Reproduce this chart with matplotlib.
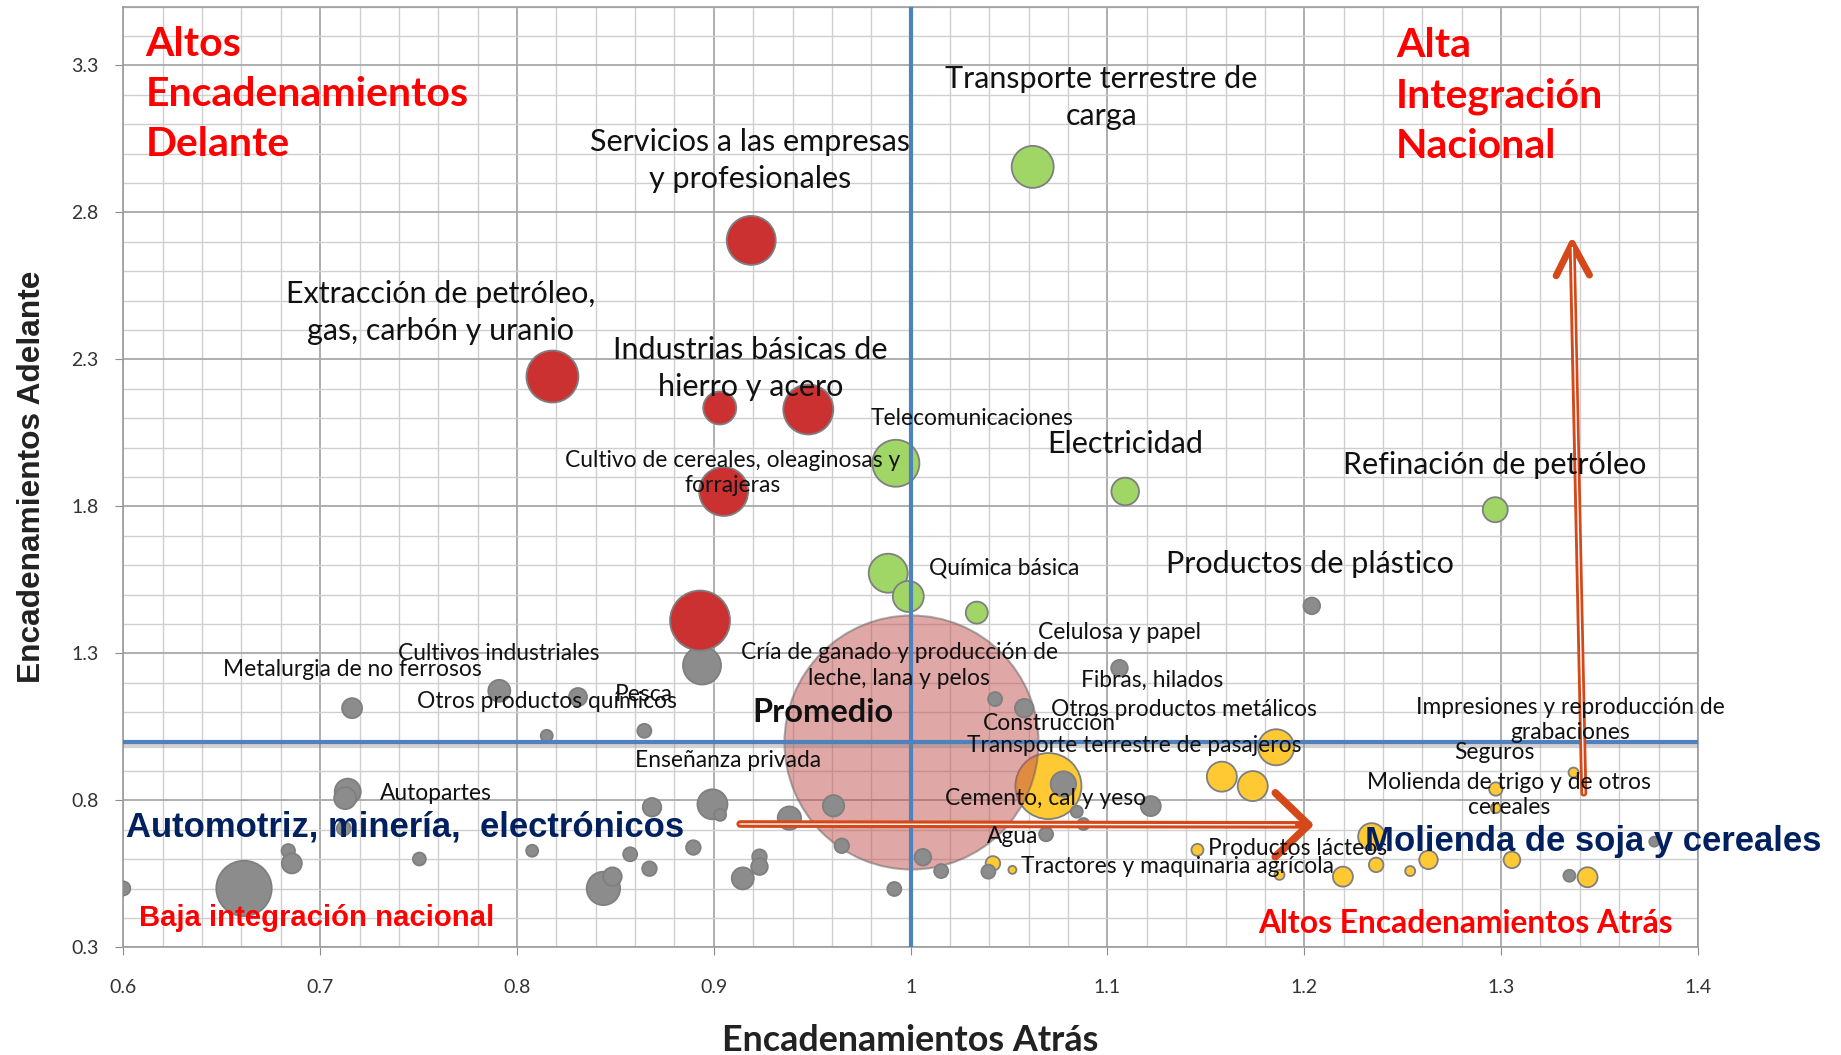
import numpy as np
import matplotlib
matplotlib.use('Agg')
import matplotlib.pyplot as plt
from matplotlib import patheffects as pe

# Encadenamientos atrás (x), adelante (y) y tamaño de la burbuja
rojo_x = [0.919, 0.818, 0.903, 0.948, 0.905, 0.893]
rojo_y = [2.705, 2.242, 2.135, 2.130, 1.851, 1.412]
rojo_t = [6.0, 6.76, 2.72, 6.25, 6.0, 9.0]

verde_x = [1.062, 0.9925, 1.109, 1.297, 0.9886, 0.9988, 1.0336]
verde_y = [2.955, 1.947, 1.851, 1.789, 1.573, 1.494, 1.439]
verde_t = [4.41, 5.52, 1.9, 1.56, 3.8, 2.4, 1.21]

amarillo_x = [1.070, 1.1857, 1.1581, 1.1738, 1.1457, 1.0418, 1.0517, 1.1874, 1.2196,
              1.2365, 1.2538, 1.2631, 1.2342, 1.2973, 1.2973, 1.3055, 1.3368, 1.3439]
amarillo_y = [0.849, 0.981, 0.881, 0.849, 0.632, 0.586, 0.564, 0.547, 0.541,
              0.581, 0.560, 0.598, 0.677, 0.839, 0.774, 0.598, 0.895, 0.539]
amarillo_t = [10.9, 3.24, 2.25, 2.25, 0.36, 0.53, 0.16, 0.25, 1.0,
              0.53, 0.25, 0.86, 1.82, 0.45, 0.25, 0.69, 0.25, 1.0]

gris_x = [0.7162, 0.791, 0.831, 0.8151, 0.714, 0.7127, 0.712, 0.6838, 0.6856, 0.7504,
          0.8077, 0.6613, 0.600, 0.8647, 0.8686, 0.8993, 0.9032, 0.9384, 0.9608, 0.8896,
          0.8575, 0.8673, 0.8439, 0.8485, 0.9147, 0.9232, 0.9232, 0.965, 1.0062, 1.0155,
          0.9917, 1.0688, 1.0395, 0.894, 1.2038, 1.1061, 1.0429, 1.0577, 1.0776, 1.122,
          1.0844, 1.0878, 1.3347, 1.3778]
gris_y = [1.114, 1.173, 1.152, 1.020, 0.830, 0.808, 0.705, 0.629, 0.586, 0.601,
          0.629, 0.501, 0.501, 1.037, 0.777, 0.787, 0.751, 0.740, 0.782, 0.640,
          0.617, 0.568, 0.501, 0.541, 0.535, 0.609, 0.575, 0.646, 0.607, 0.560,
          0.499, 0.685, 0.558, 1.259, 1.462, 1.250, 1.145, 1.114, 0.856, 0.781,
          0.762, 0.720, 0.544, 0.660]
gris_t = [1.0, 1.21, 0.81, 0.36, 1.69, 1.21, 0.49, 0.45, 1.0, 0.42,
          0.36, 7.67, 0.49, 0.49, 0.86, 2.25, 0.36, 1.37, 1.14, 0.53,
          0.49, 0.53, 2.79, 0.86, 1.21, 0.53, 0.69, 0.53, 0.69, 0.49,
          0.49, 0.49, 0.49, 3.61, 0.69, 0.69, 0.49, 0.86, 1.61, 1.0,
          0.36, 0.36, 0.36, 0.25]

promedio_x = [1.0]
promedio_y = [1.0]
promedio_t = [161.3]

# etiquetas de sectores: texto, x, y, grande
etiquetas = [
    ("Transporte terrestre de\ncarga", 1.097, 3.192, True),
    ("Servicios a las empresas\ny profesionales", 0.9186, 2.976, True),
    ("Extracción de petróleo,\ngas, carbón y uranio", 0.7611, 2.461, True),
    ("Industrias básicas de\nhierro y acero", 0.9186, 2.269, True),
    ("Telecomunicaciones", 1.0313, 2.098, False),
    ("Electricidad", 1.1089, 2.014, True),
    ("Cultivo de cereales, oleaginosas y\nforrajeras", 0.9096, 1.914, False),
    ("Refinación de petróleo", 1.2968, 1.942, True),
    ("Química básica", 1.0474, 1.590, False),
    ("Productos de plástico", 1.2031, 1.606, True),
    ("Celulosa y papel", 1.1059, 1.371, False),
    ("Cultivos industriales", 0.7909, 1.299, False),
    ("Cría de ganado y producción de\nleche, lana y pelos", 0.9943, 1.259, False),
    ("Metalurgia de no ferrosos", 0.7163, 1.247, False),
    ("Fibras, hilados", 1.1226, 1.207, False),
    ("Pesca", 0.8643, 1.159, False),
    ("Otros productos químicos", 0.8154, 1.135, False),
    ("Otros productos metálicos", 1.1387, 1.111, False),
    ("Construcción", 1.0707, 1.063, False),
    ("Impresiones y reproducción de\ngrabaciones", 1.335, 1.075, False),
    ("Transporte terrestre de pasajeros", 1.1136, 0.987, False),
    ("Seguros", 1.2968, 0.963, False),
    ("Enseñanza privada", 0.9072, 0.935, False),
    ("Molienda de trigo y de otros\ncereales", 1.304, 0.819, False),
    ("Autopartes", 0.7587, 0.823, False),
    ("Cemento, cal y yeso", 1.0683, 0.807, False),
    ("Agua", 1.0516, 0.679, False),
    ("Productos lácteos", 1.1966, 0.636, False),
    ("Tractores y maquinaria agrícola", 1.1357, 0.576, False),
]

FUENTE = ['Lato', 'DejaVu Sans']
ARIAL = ['Liberation Sans', 'DejaVu Sans']


def area(t):
    r_px = 10 * np.sqrt(np.array(t))
    return (2 * r_px * 72 / 100) ** 2


fig = plt.figure(figsize=(18.41, 10.55), dpi=100)
ax = fig.add_axes([0.067, 0.1019, 0.8553, 0.8918])

ax.set_xlim(0.6, 1.4)
ax.set_ylim(0.3, 3.5)
ax.set_xticks(np.arange(0.6, 1.401, 0.1))
ax.set_xticks(np.arange(0.6, 1.401, 0.02), minor=True)
ax.set_yticks(np.arange(0.3, 3.31, 0.5))
ax.set_yticks(np.arange(0.3, 3.501, 0.1), minor=True)
ax.set_xticklabels([f'{v:g}' for v in np.arange(0.6, 1.401, 0.1).round(1)])
ax.set_yticklabels([f'{v:.1f}' for v in np.arange(0.3, 3.31, 0.5)])
ax.grid(which='minor', color='#CFCFCF', lw=1.0, zorder=0)
ax.grid(which='major', color='#A8A8A8', lw=1.3, zorder=0)
ax.set_axisbelow(True)
ax.tick_params(which='minor', length=0)
ax.tick_params(which='major', length=6, color='#8C8C8C', labelcolor='#333333',
               labelsize=14)
ax.tick_params(axis='x', pad=17)
ax.tick_params(axis='y', pad=12)
for lab in ax.get_xticklabels() + ax.get_yticklabels():
    lab.set_family(FUENTE)
for s in ax.spines.values():
    s.set_color('#9C9C9C')
    s.set_linewidth(1.2)

borde = dict(edgecolors='#7F7F7F', linewidths=1.3)
ax.scatter(amarillo_x, amarillo_y, s=area(amarillo_t), c='#FFC933', zorder=2, **borde)
ax.scatter(promedio_x, promedio_y, s=area(promedio_t), c='#C0504D', alpha=0.5,
           edgecolors='#606060', linewidths=1.5, zorder=3)
ax.scatter(gris_x, gris_y, s=area(gris_t), c='#8C8C8C', zorder=4, **borde)
ax.scatter(rojo_x, rojo_y, s=area(rojo_t), c='#CC3131', zorder=5, **borde)
ax.scatter(verde_x, verde_y, s=area(verde_t), c='#A0D665', zorder=5, **borde)

# lineas de promedio
ax.axvline(1.0, color='#4F81BD', lw=3, zorder=6)
ax.axhline(1.0, color='#4F81BD', lw=3, zorder=6,
           path_effects=[pe.SimpleLineShadow(offset=(0, -3), shadow_color='#808080', alpha=0.35),
                         pe.Normal()])

# flechas
naranja = '#D4481A'
ax.annotate('', xy=(1.205, 0.717), xytext=(0.9134, 0.720),
            arrowprops=dict(arrowstyle='->,head_length=1.2,head_width=1.15', mutation_scale=20,
                            lw=5.5, color=naranja, shrinkA=0, shrinkB=0, capstyle='round'),
            zorder=7)
ax.plot([0.9134, 1.195], [0.720, 0.717], color='white', lw=1.0, zorder=8)
ax.annotate('', xy=(1.336, 2.72), xytext=(1.342, 0.825),
            arrowprops=dict(arrowstyle='->,head_length=1.15,head_width=0.6', mutation_scale=20,
                            lw=5.0, color=naranja, shrinkA=0, shrinkB=0, capstyle='round'),
            zorder=7)
ax.plot([1.342, 1.3362], [0.825, 2.68], color='white', lw=1.0, zorder=8)

for txt, x, y, grande in etiquetas:
    ax.text(x, y, txt, ha='center', va='center', fontsize=22 if grande else 16.4,
            family=FUENTE, color='#111111', linespacing=1.4 if grande else 1.25, zorder=9)

ax.text(0.9556, 1.099, 'Promedio', ha='center', va='center', fontsize=23.4,
        fontweight='bold', family=FUENTE, color='#111111', zorder=9)

rojo_txt = '#FF0000'
ax.text(0.6113, 3.200, 'Altos\nEncadenamientos\nDelante', ha='left', va='center',
        fontsize=29.5, fontweight='bold', family=FUENTE, color=rojo_txt, linespacing=1.43,
        zorder=9)
ax.text(1.2467, 3.196, 'Alta\nIntegración\nNacional', ha='left', va='center',
        fontsize=29.5, fontweight='bold', family=FUENTE, color=rojo_txt, linespacing=1.43,
        zorder=9)
ax.text(0.6078, 0.400, 'Baja integración nacional', ha='left', va='center',
        fontsize=21.1, fontweight='bold', family=ARIAL, color=rojo_txt, zorder=9)
ax.text(1.2819, 0.380, 'Altos Encadenamientos Atrás', ha='center', va='center',
        fontsize=22.9, fontweight='bold', family=FUENTE, color=rojo_txt, zorder=9)

azul = '#002060'
ax.text(0.6012, 0.7115, 'Automotriz, minería,  electrónicos', ha='left', va='center',
        fontsize=24.9, fontweight='bold', family=ARIAL, color=azul, zorder=10)
ax.text(1.2306, 0.6595, 'Molienda de soja y cereales', ha='left', va='center',
        fontsize=24.9, fontweight='bold', family=ARIAL, color=azul, zorder=10)

ax.set_xlabel('Encadenamientos Atrás', fontsize=25.8, fontweight='bold', family=FUENTE,
              color='#222222', va='center')
ax.xaxis.set_label_coords(0.5, -0.099)
ax.set_ylabel('Encadenamientos Adelante', fontsize=22.8, fontweight='bold', family=ARIAL,
              color='#222222', va='center')
ax.yaxis.set_label_coords(-0.0578, 0.5)

fig.savefig('out.png', dpi=100)
